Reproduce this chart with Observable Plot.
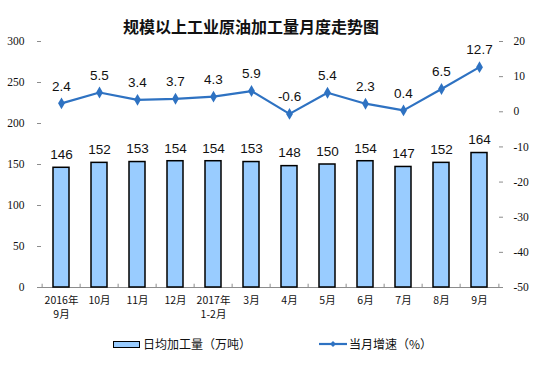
<!DOCTYPE html>
<html><head><meta charset="utf-8">
<script src="https://cdn.jsdelivr.net/npm/d3@7"></script>
<script src="https://cdn.jsdelivr.net/npm/@observablehq/plot@0.6"></script>
<style>
body{margin:0;background:#fff;}
#wrap{width:554px;height:376px;position:relative;overflow:hidden;background:#fff;}
#title{position:absolute;left:0;top:15px;width:502px;text-align:center;font:bold 16px "Noto Sans CJK SC",sans-serif;line-height:22px;color:#111;}
#chart{position:absolute;left:0;top:30px;}
.lg{position:absolute;font:12px "Noto Sans CJK SC",sans-serif;line-height:16px;color:#111;}
#chart g[aria-label="y-axis tick label"] text, #chart g[aria-label="y-axis tick label"]{font-family:"Liberation Serif","Times New Roman",serif !important;}
</style>
</head><body>
<div id="wrap">
  <div id="title">规模以上工业原油加工量月度走势图</div>
  <div id="chart"></div>
  <div class="lg" style="left:113px;top:341px;width:27px;height:7px;box-sizing:border-box;background:#99CCFF;border:1.5px solid #000;"></div>
  <div class="lg" id="lg1" style="left:143px;top:336px;"></div>
  <svg class="lg" style="left:318px;top:339px;" width="30" height="10"><line x1="1" y1="5" x2="29" y2="5" stroke="#2E72C2" stroke-width="2.2"/><path d="M15,2 L18,5 L15,8 L12,5Z" fill="#2E72C2"/></svg>
  <div class="lg" id="lg2" style="left:349px;top:336px;"></div>
</div>
<script>
const months = ["2016年\n9月","10月","11月","12月","2017年\n1-2月","3月","4月","5月","6月","7月","8月","9月"];
const output = [146,152,153,154,154,153,148,150,154,147,152,164];
const growth = [2.4,5.5,3.4,3.7,4.3,5.9,-0.6,5.4,2.3,0.4,6.5,12.7];
const leftTicks = [0,50,100,150,200,250,300];
const rightTicks = [-50,-40,-30,-20,-10,0,10,20];
const legendBar = "日均加工量（万吨）";
const legendLine = "当月增速（%）";

document.getElementById("lg1").textContent = legendBar;
document.getElementById("lg2").textContent = legendLine;

const data = months.map((m,i)=>({m, v: output[i], g: growth[i]}));
const toLeft = g => (g + 50) * 300 / 70;
const fromLeft = y => Math.round(y * 70 / 300 - 50);
const step = (554 - 37 - 52) / months.length;
const blue = "#2E72C2";
const axisGray = "#8c8c8c";
const serif = "'Liberation Serif', 'Times New Roman', serif";

const chart = Plot.plot({
  width: 554,
  height: 300,
  marginTop: 11,
  marginBottom: 43,
  marginLeft: 37,
  marginRight: 52,
  style: {background: "transparent", overflow: "visible"},
  x: {type: "band", domain: months, paddingInner: 0.59, paddingOuter: 0.295, label: null},
  y: {domain: [0, 300], label: null},
  marks: [
    Plot.ruleY([0], {stroke: axisGray, strokeWidth: 1}),
    Plot.ruleX(months, {x: d => d, y1: 0, y2: 4, dx: -step/2, stroke: axisGray}),
    Plot.ruleX(months.slice(-1), {x: d => d, y1: 0, y2: 4, dx: step/2, stroke: axisGray}),
    Plot.barY(data, {x: "m", y: "v", fill: "#99CCFF", stroke: "#000", strokeWidth: 1.5}),
    Plot.text(data, {x: "m", y: "v", text: d => String(d.v), dy: -13, fontSize: 13.5, fontFamily: "Liberation Sans, Arial, sans-serif", fill: "#111"}),
    Plot.line(data, {x: "m", y: d => toLeft(d.g), stroke: blue, strokeWidth: 2.2}),
    Plot.dot(data, {x: "m", y: d => toLeft(d.g), symbol: "diamond", r: 3.6, fill: blue, stroke: "none"}),
    Plot.text(data, {x: "m", y: d => toLeft(d.g), text: d => d.g.toFixed(1), dy: -17, fontSize: 13.5, fontFamily: "Liberation Sans, Arial, sans-serif", fill: "#111"}),
    Plot.axisY(leftTicks, {anchor: "left", tickSize: -4, tickPadding: 17, line: true, stroke: axisGray, fill: "#111", fontSize: 11.5, fontFamily: serif, label: null}),
    Plot.axisY(rightTicks.map(toLeft), {anchor: "right", tickSize: -4, tickPadding: 15, line: true, stroke: axisGray, fill: "#111", fontSize: 11.5, fontFamily: serif, tickFormat: fromLeft, label: null}),
    Plot.axisX({tickSize: 0, tickPadding: 6, fontSize: 10.5, lineHeight: 1.38, fontFamily: "Noto Sans CJK SC, sans-serif", fill: "#111", label: null})
  ]
});
document.getElementById("chart").appendChild(chart);
</script>
</body></html>
